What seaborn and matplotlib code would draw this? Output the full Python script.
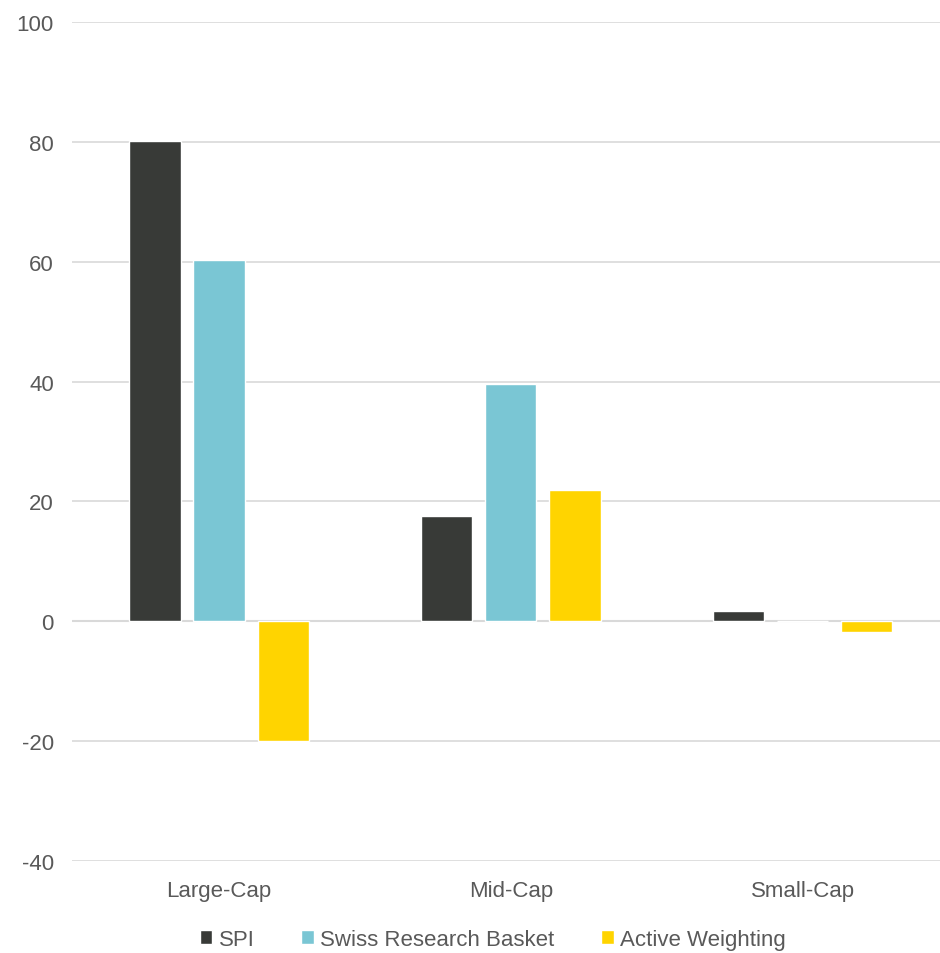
import matplotlib
matplotlib.use("Agg")
import matplotlib.pyplot as plt
import seaborn as sns
import pandas as pd

categories = ["Large-Cap", "Mid-Cap", "Small-Cap"]
series = ["SPI", "Swiss Research Basket", "Active Weighting"]
spi = [80.2, 17.5, 1.7]
basket = [60.2, 39.6, 0.0]
active = [-20.0, 21.9, -1.8]
colors = ["#383a37", "#7ac6d4", "#ffd400"]
yticks = [-40, -20, 0, 20, 40, 60, 80, 100]

rows = []
for name, vals in zip(series, [spi, basket, active]):
    for cat, v in zip(categories, vals):
        rows.append({"cat": cat, "series": name, "value": v})
df = pd.DataFrame(rows)

sns.set_style("white")
plt.rcParams["font.family"] = ["Liberation Sans", "DejaVu Sans"]

fig = plt.figure(figsize=(9.4, 9.54), dpi=100)
ax = fig.add_axes([0.0766, 0.0964, 0.9234, 0.8796])

sns.barplot(data=df, x="cat", y="value", hue="series", hue_order=series,
            palette=colors, width=0.66, gap=0.2, saturation=1, errorbar=None,
            ax=ax, zorder=3)

ax.set_ylim(-40, 100)
ax.set_yticks(yticks)
ax.set_yticklabels([str(t) for t in yticks])
ax.set_xlim(-0.504, 2.471)
ax.yaxis.grid(True, color="#d9d9d9", linewidth=1.2, zorder=0)
ax.axhline(0, color="#d9d9d9", linewidth=1.5, zorder=1)
for s in ax.spines.values():
    s.set_visible(False)
ax.set_xlabel("")
ax.set_ylabel("")
ax.tick_params(axis="both", length=0, labelsize=16, colors="#595959", pad=13)
ax.tick_params(axis="x", pad=14)

handles, labels = ax.get_legend_handles_labels()
ax.legend(handles, labels, loc="upper center", bbox_to_anchor=(0.485, -0.057),
          ncol=3, frameon=False, fontsize=16, handlelength=0.55, handleheight=0.55,
          handletextpad=0.3, columnspacing=2.1, labelcolor="#595959")

fig.savefig("out.png", dpi=100)
